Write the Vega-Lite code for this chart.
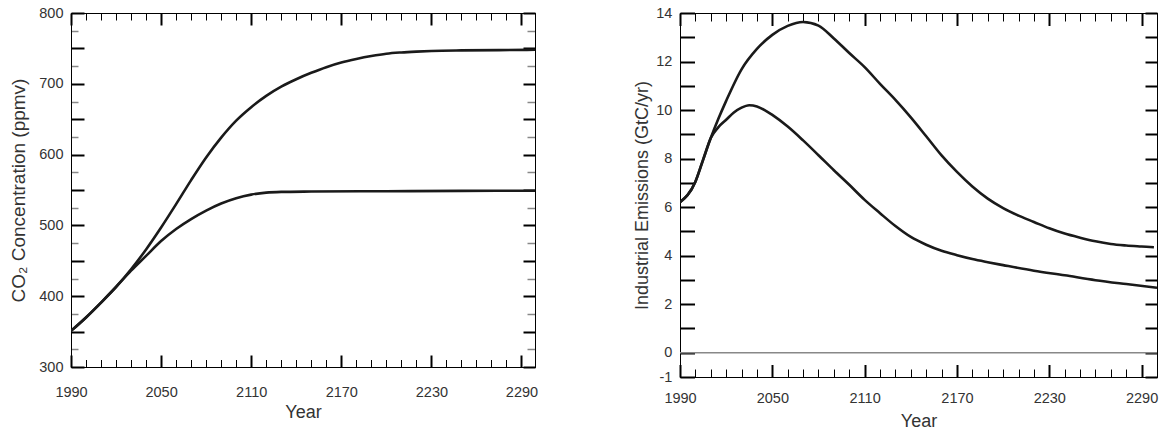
{
  "$schema": "https://vega.github.io/schema/vega-lite/v6.json",
  "padding": {"left": 9, "top": 4, "right": 0, "bottom": 0},
  "spacing": 94,
  "datasets": {
    "co2": [
      {"series": "550", "year": 1990, "ppmv": 351}, {"series": "550", "year": 2000, "ppmv": 370}, {"series": "550", "year": 2010, "ppmv": 391},
      {"series": "550", "year": 2020, "ppmv": 413}, {"series": "550", "year": 2030, "ppmv": 436}, {"series": "550", "year": 2040, "ppmv": 457},
      {"series": "550", "year": 2050, "ppmv": 478}, {"series": "550", "year": 2060, "ppmv": 495}, {"series": "550", "year": 2070, "ppmv": 509},
      {"series": "550", "year": 2080, "ppmv": 521}, {"series": "550", "year": 2090, "ppmv": 531}, {"series": "550", "year": 2100, "ppmv": 538.5},
      {"series": "550", "year": 2110, "ppmv": 543.5}, {"series": "550", "year": 2120, "ppmv": 546.3}, {"series": "550", "year": 2130, "ppmv": 547.3},
      {"series": "550", "year": 2150, "ppmv": 547.8}, {"series": "550", "year": 2200, "ppmv": 548.3}, {"series": "550", "year": 2250, "ppmv": 548.8},
      {"series": "550", "year": 2299, "ppmv": 549},
      {"series": "750", "year": 1990, "ppmv": 351}, {"series": "750", "year": 2000, "ppmv": 370}, {"series": "750", "year": 2010, "ppmv": 391},
      {"series": "750", "year": 2020, "ppmv": 413}, {"series": "750", "year": 2030, "ppmv": 438}, {"series": "750", "year": 2040, "ppmv": 466},
      {"series": "750", "year": 2050, "ppmv": 497}, {"series": "750", "year": 2060, "ppmv": 530}, {"series": "750", "year": 2070, "ppmv": 564},
      {"series": "750", "year": 2080, "ppmv": 596}, {"series": "750", "year": 2090, "ppmv": 624}, {"series": "750", "year": 2100, "ppmv": 648},
      {"series": "750", "year": 2110, "ppmv": 667}, {"series": "750", "year": 2120, "ppmv": 683}, {"series": "750", "year": 2130, "ppmv": 696},
      {"series": "750", "year": 2140, "ppmv": 706.5}, {"series": "750", "year": 2150, "ppmv": 715.5}, {"series": "750", "year": 2160, "ppmv": 723.5},
      {"series": "750", "year": 2170, "ppmv": 730}, {"series": "750", "year": 2180, "ppmv": 735}, {"series": "750", "year": 2190, "ppmv": 739.2},
      {"series": "750", "year": 2200, "ppmv": 742.5}, {"series": "750", "year": 2210, "ppmv": 744.3}, {"series": "750", "year": 2220, "ppmv": 745.5},
      {"series": "750", "year": 2230, "ppmv": 746.4}, {"series": "750", "year": 2250, "ppmv": 747.2}, {"series": "750", "year": 2275, "ppmv": 747.6},
      {"series": "750", "year": 2299, "ppmv": 748}
    ],
    "emis": [
      {"series": "750", "year": 1990, "gtc": 6.2}, {"series": "750", "year": 2000, "gtc": 7.05}, {"series": "750", "year": 2005, "gtc": 7.95},
      {"series": "750", "year": 2010, "gtc": 8.85}, {"series": "750", "year": 2015, "gtc": 9.65}, {"series": "750", "year": 2020, "gtc": 10.38},
      {"series": "750", "year": 2030, "gtc": 11.68}, {"series": "750", "year": 2040, "gtc": 12.52}, {"series": "750", "year": 2050, "gtc": 13.1},
      {"series": "750", "year": 2060, "gtc": 13.47}, {"series": "750", "year": 2070, "gtc": 13.63}, {"series": "750", "year": 2080, "gtc": 13.48},
      {"series": "750", "year": 2090, "gtc": 12.95}, {"series": "750", "year": 2100, "gtc": 12.35}, {"series": "750", "year": 2110, "gtc": 11.77},
      {"series": "750", "year": 2120, "gtc": 11.08}, {"series": "750", "year": 2130, "gtc": 10.42}, {"series": "750", "year": 2140, "gtc": 9.7},
      {"series": "750", "year": 2150, "gtc": 8.92}, {"series": "750", "year": 2160, "gtc": 8.13}, {"series": "750", "year": 2170, "gtc": 7.45},
      {"series": "750", "year": 2180, "gtc": 6.85}, {"series": "750", "year": 2190, "gtc": 6.35}, {"series": "750", "year": 2200, "gtc": 5.96},
      {"series": "750", "year": 2210, "gtc": 5.65}, {"series": "750", "year": 2220, "gtc": 5.39}, {"series": "750", "year": 2230, "gtc": 5.13},
      {"series": "750", "year": 2240, "gtc": 4.91}, {"series": "750", "year": 2250, "gtc": 4.74}, {"series": "750", "year": 2260, "gtc": 4.59},
      {"series": "750", "year": 2270, "gtc": 4.48}, {"series": "750", "year": 2280, "gtc": 4.42}, {"series": "750", "year": 2290, "gtc": 4.38},
      {"series": "750", "year": 2298, "gtc": 4.35},
      {"series": "550", "year": 1990, "gtc": 6.2}, {"series": "550", "year": 2000, "gtc": 7.05}, {"series": "550", "year": 2005, "gtc": 7.95},
      {"series": "550", "year": 2010, "gtc": 8.85}, {"series": "550", "year": 2015, "gtc": 9.3}, {"series": "550", "year": 2020, "gtc": 9.6},
      {"series": "550", "year": 2025, "gtc": 9.9}, {"series": "550", "year": 2030, "gtc": 10.1}, {"series": "550", "year": 2035, "gtc": 10.2},
      {"series": "550", "year": 2040, "gtc": 10.15}, {"series": "550", "year": 2045, "gtc": 10.0}, {"series": "550", "year": 2050, "gtc": 9.8},
      {"series": "550", "year": 2060, "gtc": 9.32}, {"series": "550", "year": 2070, "gtc": 8.75}, {"series": "550", "year": 2080, "gtc": 8.14},
      {"series": "550", "year": 2090, "gtc": 7.52}, {"series": "550", "year": 2100, "gtc": 6.92}, {"series": "550", "year": 2110, "gtc": 6.3},
      {"series": "550", "year": 2120, "gtc": 5.75}, {"series": "550", "year": 2130, "gtc": 5.22}, {"series": "550", "year": 2140, "gtc": 4.77},
      {"series": "550", "year": 2150, "gtc": 4.45}, {"series": "550", "year": 2160, "gtc": 4.2}, {"series": "550", "year": 2170, "gtc": 4.02},
      {"series": "550", "year": 2180, "gtc": 3.86}, {"series": "550", "year": 2190, "gtc": 3.73}, {"series": "550", "year": 2200, "gtc": 3.61},
      {"series": "550", "year": 2220, "gtc": 3.38}, {"series": "550", "year": 2240, "gtc": 3.19}, {"series": "550", "year": 2260, "gtc": 2.99},
      {"series": "550", "year": 2280, "gtc": 2.83}, {"series": "550", "year": 2300, "gtc": 2.68}
    ]
  },
  "hconcat": [
    {
      "width": 464,
      "height": 354,
      "data": {"name": "co2"},
      "layer": [
        {
          "transform": [{"filter": "datum.series == '550'"}],
          "mark": {"type": "line", "color": "#1a1a1a", "strokeWidth": 2.6, "interpolate": "monotone", "clip": true},
          "encoding": {
            "x": {"field": "year", "type": "quantitative", "scale": {"domain": [1990, 2299], "nice": false},
              "axis": {"orient": "bottom", "format": "d", "values": [1990,2000,2010,2020,2030,2040,2050,2060,2070,2080,2090,2100,2110,2120,2130,2140,2150,2160,2170,2180,2190,2200,2210,2220,2230,2240,2250,2260,2270,2280,2290],
                "tickSize": {"condition": {"test": "datum.value % 60 == 10", "value": -12}, "value": -7.5},
                "tickWidth": {"condition": {"test": "datum.value % 60 == 10", "value": 2}, "value": 1},
                "labelExpr": "datum.value % 60 == 10 ? datum.label : ''",
                "labelPadding": 30, "title": "Year", "titlePadding": 0}},
            "y": {"field": "ppmv", "type": "quantitative", "scale": {"domain": [300, 800], "nice": false},
              "axis": {"orient": "left", "format": "d", "values": [300,325,350,375,400,425,450,475,500,525,550,575,600,625,650,675,700,725,750,775,800],
                "tickSize": {"condition": {"test": "datum.value % 50 == 0", "value": -13}, "value": -7},
                "tickWidth": {"condition": {"test": "datum.value % 50 == 0", "value": 2}, "value": 1.5},
                "tickColor": {"condition": {"test": "datum.value % 50 == 0", "value": "black"}, "value": "#888"},
                "labelExpr": "datum.value % 100 == 0 ? datum.label : ''",
                "labelPadding": 21, "title": "CO₂ Concentration (ppmv)", "titlePadding": 10, "titleFontSize": 19}}
          }
        },
        {
          "transform": [{"filter": "datum.series == '750'"}],
          "mark": {"type": "line", "color": "#1a1a1a", "strokeWidth": 2.6, "interpolate": "monotone", "clip": true},
          "encoding": {
            "x": {"field": "year", "type": "quantitative",
              "axis": {"orient": "top", "labels": false, "title": null, "values": [1990,2000,2010,2020,2030,2040,2050,2060,2070,2080,2090,2100,2110,2120,2130,2140,2150,2160,2170,2180,2190,2200,2210,2220,2230,2240,2250,2260,2270,2280,2290],
                "tickSize": {"condition": {"test": "datum.value % 60 == 10", "value": -12}, "value": -7},
                "tickWidth": {"condition": {"test": "datum.value % 60 == 10", "value": 2}, "value": 1}}},
            "y": {"field": "ppmv", "type": "quantitative",
              "axis": {"orient": "right", "labels": false, "title": null, "values": [300,325,350,375,400,425,450,475,500,525,550,575,600,625,650,675,700,725,750,775,800],
                "tickSize": {"condition": {"test": "datum.value % 50 == 0", "value": -12}, "value": -8},
                "tickWidth": {"condition": {"test": "datum.value % 50 == 0", "value": 2}, "value": 1.5},
                "tickColor": {"condition": {"test": "datum.value % 50 == 0", "value": "black"}, "value": "#888"}}}
          }
        }
      ],
      "resolve": {"axis": {"x": "independent", "y": "independent"}}
    },
    {
      "width": 477,
      "height": 364,
      "layer": [
        {
          "data": {"name": "emis"},
          "transform": [{"filter": "datum.series == '750'"}],
          "mark": {"type": "line", "color": "#1a1a1a", "strokeWidth": 2.6, "interpolate": "monotone", "clip": true},
          "encoding": {
            "x": {"field": "year", "type": "quantitative", "scale": {"domain": [1990, 2300], "nice": false},
              "axis": {"orient": "bottom", "format": "d", "values": [1990,2000,2010,2020,2030,2040,2050,2060,2070,2080,2090,2100,2110,2120,2130,2140,2150,2160,2170,2180,2190,2200,2210,2220,2230,2240,2250,2260,2270,2280,2290],
                "tickSize": {"condition": {"test": "datum.value % 60 == 10", "value": -12.5}, "value": -8},
                "tickWidth": {"condition": {"test": "datum.value % 60 == 10", "value": 2}, "value": 1},
                "labelExpr": "datum.value % 60 == 10 ? datum.label : ''",
                "labelPadding": 27, "title": "Year", "titlePadding": 2.5}},
            "y": {"field": "gtc", "type": "quantitative", "scale": {"domain": [-1, 14], "nice": false},
              "axis": {"orient": "left", "format": "d", "values": [-1,0,1,2,3,4,5,6,7,8,9,10,11,12,13,14],
                "tickSize": -14.5, "tickWidth": 2,
                "labelExpr": "(datum.value % 2 == 0 || datum.value == -1) ? replace(datum.label, '−', '-') : ''",
                "labelPadding": 22.6, "title": "Industrial Emissions (GtC/yr)", "titlePadding": 4}}
          }
        },
        {
          "data": {"name": "emis"},
          "transform": [{"filter": "datum.series == '550'"}],
          "mark": {"type": "line", "color": "#1a1a1a", "strokeWidth": 2.6, "interpolate": "monotone", "clip": true},
          "encoding": {
            "x": {"field": "year", "type": "quantitative",
              "axis": {"orient": "top", "labels": false, "title": null, "values": [1990,2000,2010,2020,2030,2040,2050,2060,2070,2080,2090,2100,2110,2120,2130,2140,2150,2160,2170,2180,2190,2200,2210,2220,2230,2240,2250,2260,2270,2280,2290],
                "tickSize": {"condition": {"test": "datum.value % 60 == 10", "value": -12.5}, "value": -8},
                "tickWidth": {"condition": {"test": "datum.value % 60 == 10", "value": 2}, "value": 1}}},
            "y": {"field": "gtc", "type": "quantitative",
              "axis": {"orient": "right", "labels": false, "title": null, "values": [-1,0,1,2,3,4,5,6,7,8,9,10,11,12,13,14],
                "tickSize": -12, "tickWidth": 2}}
          }
        },
        {
          "data": {"values": [{"level": 0}]},
          "mark": {"type": "rule", "color": "#888", "strokeWidth": 1.5},
          "encoding": {"y": {"field": "level", "type": "quantitative", "axis": null}}
        }
      ],
      "resolve": {"axis": {"x": "independent", "y": "independent"}}
    }
  ],
  "config": {
    "view": {"stroke": "black", "strokeWidth": 1},
    "axis": {
      "domainColor": "black", "domainWidth": 1, "tickColor": "black", "grid": false,
      "labelFont": "Liberation Sans", "titleFont": "Liberation Sans",
      "labelFontSize": 14.5, "titleFontSize": 18, "titleFontWeight": "normal",
      "labelColor": "#333", "titleColor": "#333",
      "labelOverlap": false, "labelFlush": false, "labelBound": false
    }
  }
}
